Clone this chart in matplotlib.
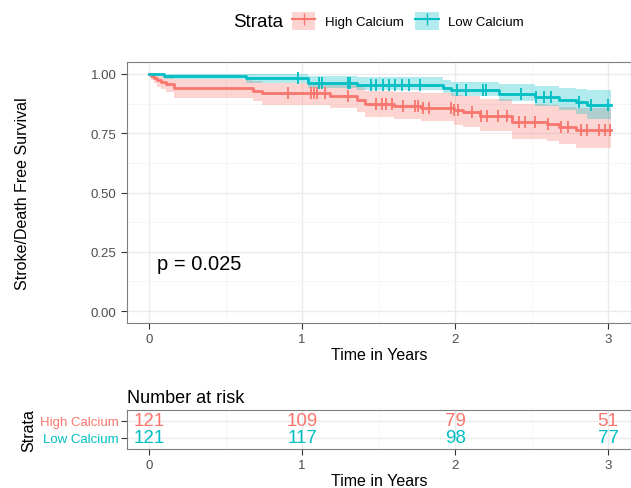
import numpy as np
import matplotlib.pyplot as plt
from matplotlib.lines import Line2D
from matplotlib.patches import Patch
from matplotlib.offsetbox import HPacker

plt.rcParams["font.family"] = ["Liberation Sans", "DejaVu Sans"]

red = "#F8766D"
teal = "#00BFC4"

# High Calcium step curve
hi_t = [0, 0.01, 0.03, 0.05, 0.08, 0.11, 0.16, 0.68, 0.74, 1.18, 1.36, 1.41, 1.60, 1.78, 1.99, 2.05, 2.16, 2.37, 2.60, 2.68, 2.79, 3.02]
hi_s = [1.0, 0.992, 0.983, 0.975, 0.967, 0.958, 0.942, 0.930, 0.918, 0.906, 0.892, 0.873, 0.866, 0.858, 0.846, 0.838, 0.824, 0.796, 0.788, 0.778, 0.765, 0.765]
hi_up = [1.0, 1.0, 1.0, 1.0, 0.995, 0.99, 0.98, 0.972, 0.963, 0.955, 0.945, 0.93, 0.925, 0.92, 0.91, 0.905, 0.895, 0.875, 0.868, 0.862, 0.855, 0.855]
hi_lo = [1.0, 0.976, 0.96, 0.947, 0.935, 0.922, 0.90, 0.885, 0.87, 0.856, 0.838, 0.818, 0.808, 0.80, 0.785, 0.775, 0.758, 0.727, 0.716, 0.703, 0.688, 0.688]
hi_cens = [0.91, 1.06, 1.08, 1.10, 1.15, 1.30, 1.48, 1.52, 1.55, 1.59, 1.66, 1.74, 1.76, 1.79, 1.83,
           1.97, 1.99, 2.02, 2.11, 2.17, 2.21, 2.28, 2.34, 2.42, 2.46, 2.52, 2.61, 2.69, 2.74,
           2.82, 2.86, 2.94, 2.98, 3.01]

# Low Calcium step curve
lo_t = [0, 0.10, 0.63, 1.04, 1.36, 1.92, 1.97, 2.29, 2.52, 2.68, 2.79, 2.86, 3.02]
lo_s = [1.0, 0.992, 0.983, 0.962, 0.954, 0.942, 0.932, 0.916, 0.902, 0.892, 0.880, 0.869, 0.869]
lo_up = [1.0, 1.0, 1.0, 0.99, 0.985, 0.975, 0.968, 0.958, 0.948, 0.942, 0.938, 0.934, 0.934]
lo_lo = [1.0, 0.977, 0.96, 0.94, 0.932, 0.918, 0.905, 0.885, 0.865, 0.85, 0.83, 0.812, 0.812]
lo_cens = [0.97, 1.11, 1.13, 1.30, 1.31, 1.45, 1.48, 1.53, 1.57, 1.61, 1.65, 1.70, 1.77,
           2.01, 2.07, 2.18, 2.20, 2.43, 2.53, 2.58, 2.63, 2.81, 2.89, 3.0]

risk_times = [0, 1, 2, 3]
hi_risk = [121, 109, 79, 51]
lo_risk = [121, 117, 98, 77]

fig = plt.figure(figsize=(6.31, 4.89), dpi=100)
ax = fig.add_axes([0.2013, 0.3374, 0.7987, 0.5336])
tab = fig.add_axes([0.2013, 0.0798, 0.7987, 0.0798])

xlim = (-0.145, 3.15)


def surv_at(t, s, x):
    idx = np.searchsorted(t, x, side="right") - 1
    return np.array(s)[idx]


for t, s, up, lo, cens, col in [(hi_t, hi_s, hi_up, hi_lo, hi_cens, red),
                                (lo_t, lo_s, lo_up, lo_lo, lo_cens, teal)]:
    ax.fill_between(t, lo, up, step="post", color=col, alpha=0.3, lw=0)
    ax.step(t, s, where="post", color=col, lw=2)
    ax.plot(cens, surv_at(t, s, cens), "|", color=col, ms=8, mew=1.3)

ax.set_xlim(xlim)
ax.set_ylim(-0.05, 1.05)
ax.set_xticks([0, 1, 2, 3])
ax.set_xticks([0.5, 1.5, 2.5], minor=True)
ax.set_yticks([0, 0.25, 0.5, 0.75, 1.0])
ax.set_yticks([0.125, 0.375, 0.625, 0.875], minor=True)
ax.set_yticklabels(["0.00", "0.25", "0.50", "0.75", "1.00"])
ax.grid(which="major", color="#EBEBEB", lw=1)
ax.grid(which="minor", color="#F4F4F4", lw=0.6)
ax.set_axisbelow(True)
ax.tick_params(which="minor", length=0)
ax.tick_params(which="major", length=4, color="#333333", labelsize=9.5, labelcolor="#4D4D4D")
for sp in ax.spines.values():
    sp.set_color("#7F7F7F")
ax.set_xlabel("Time in Years", fontsize=11.5, labelpad=1)
ax.set_ylabel("Stroke/Death Free Survival", fontsize=11.5, labelpad=44)
ax.text(0.05, 0.2, "p = 0.025", fontsize=14.5, va="center", ha="left")

handles = [
    (Patch(facecolor=red, alpha=0.3, lw=0), Line2D([], [], color=red, marker="|", ms=9, lw=1.5)),
    (Patch(facecolor=teal, alpha=0.3, lw=0), Line2D([], [], color=teal, marker="|", ms=9, lw=1.5)),
]
leg = fig.legend(handles, ["High Calcium", "Low Calcium"], loc="center", bbox_to_anchor=(0.6, 0.955),
                 ncol=2, frameon=False, fontsize=9.5, title="Strata", title_fontsize=13.5,
                 handlelength=1.8, handleheight=1.7, columnspacing=0.9, handletextpad=0.7)
# put title on the same line as the entries
leg._legend_box._children[:] = [HPacker(children=[leg._legend_box._children[0], leg._legend_box._children[1]],
                                        pad=0, sep=6, align="center")]

# risk table
tab.set_xlim(xlim)
tab.set_ylim(0.353, 2.647)
for x, n in zip(risk_times, hi_risk):
    tab.text(x, 2, str(n), color=red, fontsize=13.5, ha="center", va="center")
for x, n in zip(risk_times, lo_risk):
    tab.text(x, 1, str(n), color=teal, fontsize=13.5, ha="center", va="center")
tab.set_xticks([0, 1, 2, 3])
tab.set_xticks([0.5, 1.5, 2.5], minor=True)
tab.set_yticks([1, 2])
tab.set_yticklabels(["Low Calcium", "High Calcium"])
for lab, col in zip(tab.get_yticklabels(), [teal, red]):
    lab.set_color(col)
tab.grid(which="major", color="#EBEBEB", lw=1)
tab.grid(which="minor", axis="x", color="#F4F4F4", lw=0.6)
tab.set_axisbelow(True)
tab.tick_params(which="minor", length=0)
tab.tick_params(axis="y", length=4, color="#333333", labelsize=9.5, pad=2)
tab.tick_params(axis="x", length=4, color="#333333", labelsize=9.5, labelcolor="#4D4D4D")
for sp in tab.spines.values():
    sp.set_color("#7F7F7F")
tab.set_xlabel("Time in Years", fontsize=11.5, labelpad=1)
tab.set_ylabel("Strata", fontsize=11.5, labelpad=3)
tab.set_title("Number at risk", loc="left", fontsize=13, pad=6)

fig.savefig("out.png", dpi=100)
